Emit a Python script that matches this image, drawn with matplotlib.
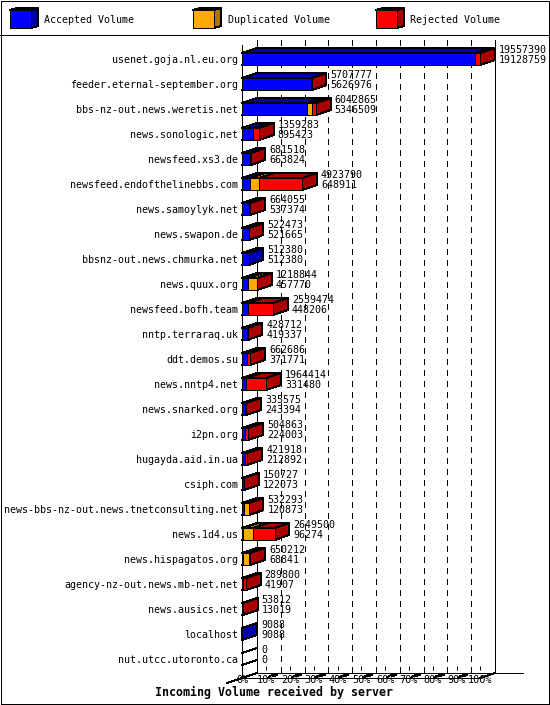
import matplotlib
matplotlib.use("Agg")
import matplotlib.pyplot as plt
from matplotlib.patches import Polygon

servers = ["usenet.goja.nl.eu.org", "feeder.eternal-september.org", "bbs-nz-out.news.weretis.net",
           "news.sonologic.net", "newsfeed.xs3.de", "newsfeed.endofthelinebbs.com", "news.samoylyk.net",
           "news.swapon.de", "bbsnz-out.news.chmurka.net", "news.quux.org", "newsfeed.bofh.team",
           "nntp.terraraq.uk", "ddt.demos.su", "news.nntp4.net", "news.snarked.org", "i2pn.org",
           "hugayda.aid.in.ua", "csiph.com", "news-bbs-nz-out.news.tnetconsulting.net", "news.1d4.us",
           "news.hispagatos.org", "agency-nz-out.news.mb-net.net", "news.ausics.net", "localhost",
           "nut.utcc.utoronto.ca"]
total = [19557390, 5707777, 6042865, 1359283, 681518, 4923790, 664055, 522473, 512380, 1218844,
         2539474, 428712, 662686, 1964414, 335575, 504863, 421918, 150727, 532293, 2649500,
         650212, 289800, 53812, 9088, 0]
accepted = [19128759, 5626976, 5346509, 895423, 663824, 648911, 537374, 521665, 512380, 457770,
            448206, 419337, 371771, 331480, 243394, 224003, 212892, 122073, 120873, 96274,
            68841, 41907, 13019, 9088, 0]
duplicated = [0, 0, 420000, 10000, 0, 740000, 0, 0, 0, 720000,
              20000, 0, 0, 10000, 0, 0, 0, 0, 410000, 760000,
              500000, 0, 0, 0, 0]
tick_pct = list(range(0, 101, 10))
legend_names = ["Accepted Volume", "Duplicated Volume", "Rejected Volume"]
front_colors = ["#0000ff", "#ffaa00", "#ff0000"]
side_colors = ["#0000aa", "#aa7700", "#aa0000"]
title = "Incoming Volume received by server"

W, H = 550, 705
plt.rcParams["font.family"] = "DejaVu Sans Mono"
plt.rcParams["font.size"] = 7.2
fig = plt.figure(figsize=(W / 100, H / 100), dpi=100, facecolor="white")

bg = fig.add_axes([0, 0, 1, 1], zorder=0)
bg.set_xlim(0, W); bg.set_ylim(H, 0); bg.axis("off")

X0, X1, Y0, Y1 = 242.3, 480.3, 53, 665.5
ax = fig.add_axes([X0 / W, 1 - Y1 / H, (X1 - X0) / W, (Y1 - Y0) / H], zorder=1)
ax.set_xlim(0, 100)
ax.set_ylim((Y1 - Y0) / 25, 0)
ax.patch.set_alpha(0)
for s in ax.spines.values():
    s.set_visible(False)

pxx = (X1 - X0) / 100
pxy = 25.0
DX, DY = 14.7 / pxx, 5 / pxy
BH = 12 / pxy
LW = 0.72

vmax = max(total)
pct = lambda v: v / vmax * 100


def poly(pts, fc, z=3):
    ax.add_patch(Polygon(pts, closed=True, fc=fc, ec="black", lw=LW, zorder=z,
                         clip_on=False, antialiased=False))


n = len(servers)
kw = dict(color="black", lw=LW, clip_on=False, zorder=2, antialiased=False)
top = (53 - 40) / pxy
ax.plot([DX, DX], [-top, n - DY], **kw)
ax.plot([100 + DX, 100 + DX], [-top, n - DY], **kw)
ax.plot([0, 0], [-8 / pxy, n], **kw)
for p in tick_pct[1:-1]:
    ax.plot([p + DX, p + DX], [-top, n - DY], color="black", lw=LW, ls=(0, (5.5, 5.5)),
            zorder=1.5, clip_on=False, antialiased=False)

ax.plot([0, 100], [n, n], **kw)
ax.plot([DX, 100 + DX + 28 / pxx], [n - DY, n - DY], **kw)
ax.plot([-15 / pxx, 0, DX], [n + DY, n, n - DY], **kw)
ax.plot([100, 100 + DX], [n, n - DY], **kw)
for p in tick_pct[1:-1]:
    ax.plot([p + 2 / pxx, p + 4 / pxx], [n, n - 2 / pxy], **kw)
    ax.plot([p + 7 / pxx, p + 10 / pxx], [n - 2.5 / pxy, n - 3.5 / pxy], color="black", lw=1.6,
            clip_on=False, zorder=2, antialiased=False)

for i, (name, t, a, d) in enumerate(zip(servers, total, accepted, duplicated)):
    r = t - a - d
    y = i
    ax.plot([0, DX], [y + BH, y + BH - DY], **kw)
    ax.plot([0, DX], [y, y - DY], **kw)
    left = 0.0
    last = None
    for v, k in ((a, 0), (d, 1), (r, 2)):
        if v <= 0:
            continue
        w = pct(v)
        poly([(left, y), (left + DX, y - DY), (left + w + DX, y - DY), (left + w, y)], side_colors[k])
        poly([(left, y), (left + w, y), (left + w, y + BH), (left, y + BH)], front_colors[k], z=3.2)
        left += w
        last = k
    if last is not None:
        poly([(left, y), (left + DX, y - DY), (left + DX, y + BH - DY), (left, y + BH)], side_colors[last], z=3.1)
    xe = pct(t) + DX
    for val, off in ((t, -3), (a, 7)):
        ax.annotate(str(val), xy=(xe, y), xytext=(4, -off), textcoords="offset pixels",
                    ha="left", va="center", zorder=5, annotation_clip=False, color="black")

ax.set_yticks([i + BH / 2 for i in range(n)], servers)
ax.tick_params(axis="y", length=0, pad=2.9)
ax.set_xticks(tick_pct, [f"{p}%" for p in tick_pct])
ax.tick_params(axis="x", length=3, width=LW, pad=3.6, labelsize=7.4)

bg.text(274, 692, title, ha="center", va="center", fontweight="bold", fontsize=8.4)

bg.add_patch(plt.Rectangle((1, 1), W - 2.5, H - 2.5, fc="none", ec="black", lw=LW, antialiased=False))
bg.plot([0, W], [35, 35], color="black", lw=LW, antialiased=False)
for lx, name, fc, sc in zip((10, 193, 376), legend_names, front_colors, side_colors):
    f, g = 21, 18
    for pts in ([(lx, 10), (lx + 7, 8), (lx + f + 7, 8), (lx + f, 10)],
                [(lx + f, 10), (lx + f + 7, 8), (lx + f + 7, 8 + g), (lx + f, 10 + g)]):
        bg.add_patch(Polygon(pts, fc=sc, ec="black", lw=LW, antialiased=False))
    bg.add_patch(plt.Rectangle((lx, 10), f, g, fc=fc, ec="black", lw=LW, antialiased=False))
    bg.text(lx + 34.5, 20, name, ha="left", va="center")

fig.savefig("out.png", dpi=100)
